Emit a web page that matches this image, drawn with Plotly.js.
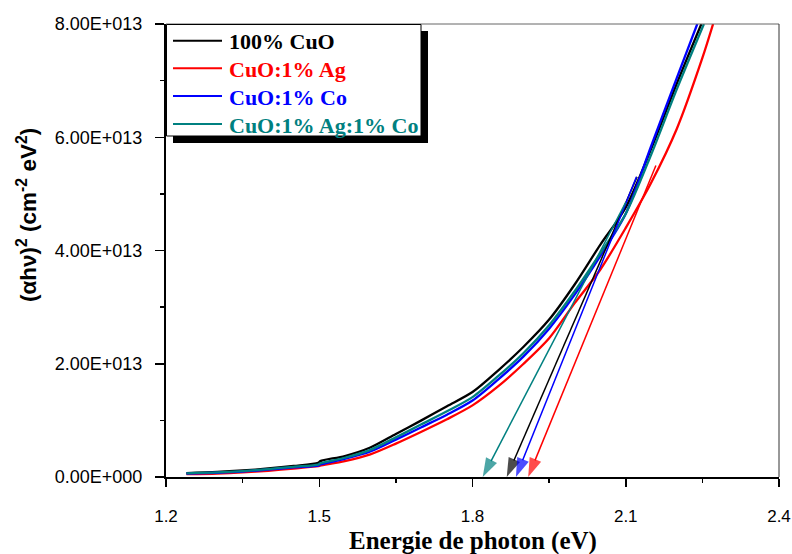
<!DOCTYPE html>
<html>
<head>
<meta charset="utf-8">
<script src="https://cdn.plot.ly/plotly-3.0.1.min.js"></script>
<style>html,body{margin:0;padding:0;background:#fff;}#chart{width:792px;height:554px;}</style>
</head>
<body>
<div id="chart"></div>
<script>
// ---- Data (y in units of 1e13 cm^-2 eV^2) ----
const seriesNames = ['100% CuO', 'CuO:1% Ag', 'CuO:1% Co', 'CuO:1% Ag:1% Co'];
const seriesColors = ['#000000', '#FF0000', '#0000FF', '#008080'];

const blackX = [1.24,1.30,1.35,1.40,1.45,1.498,1.502,1.55,1.60,1.65,1.70,1.75,1.80,1.85,1.90,1.95,2.00,2.05,2.10,2.15,2.20,2.248];
const blackY = [0.07,0.09,0.115,0.15,0.195,0.25,0.28,0.37,0.52,0.76,1.00,1.25,1.50,1.88,2.30,2.78,3.40,4.10,4.76,5.80,6.95,8.00];

const redX = [1.24,1.30,1.35,1.40,1.45,1.498,1.502,1.55,1.60,1.65,1.70,1.75,1.80,1.85,1.90,1.95,2.00,2.05,2.10,2.15,2.20,2.25,2.271];
const redY = [0.05,0.06,0.08,0.11,0.15,0.19,0.20,0.28,0.40,0.59,0.80,1.02,1.265,1.60,2.00,2.45,3.07,3.66,4.40,5.20,6.15,7.40,8.00];

const blueX = [1.24,1.30,1.35,1.40,1.45,1.498,1.502,1.55,1.60,1.65,1.70,1.75,1.80,1.85,1.90,1.95,2.00,2.05,2.10,2.15,2.20,2.24];
const blueY = [0.06,0.075,0.095,0.13,0.17,0.20,0.22,0.32,0.45,0.66,0.88,1.10,1.35,1.72,2.13,2.62,3.22,3.90,4.65,5.85,7.05,8.00];

const tealX = [1.24,1.30,1.35,1.40,1.45,1.498,1.502,1.55,1.60,1.65,1.70,1.75,1.80,1.85,1.90,1.95,2.00,2.05,2.10,2.15,2.20,2.253];
const tealY = [0.065,0.08,0.105,0.14,0.18,0.22,0.24,0.34,0.48,0.70,0.93,1.16,1.41,1.78,2.19,2.68,3.28,3.95,4.65,5.70,6.85,8.00];

// Tangent (Tauc) extrapolations: tail point on the curve -> x-intercept (band gap)
const tangentTipX  = [1.867, 1.909, 1.885, 1.820];
const tangentTailX = [2.122, 2.159, 2.121, 2.100];
const tangentTailY = [5.3,   5.5,   5.3,   4.85];

const xTickVals = [1.2, 1.5, 1.8, 2.1, 2.4];
const xTickText = ['1.2', '1.5', '1.8', '2.1', '2.4'];
const yTickVals = [0, 2, 4, 6, 8];
const yTickText = ['0.00E+000', '2.00E+013', '4.00E+013', '6.00E+013', '8.00E+013'];

// ---- Layout helpers ----
const W = 792, H = 554;
const M = {l: 166, r: 13, t: 24, b: 77};
const PW = W - M.l - M.r, PH = H - M.t - M.b;
const px2paperX = px => (px - M.l) / PW;
const px2paperY = py => (H - M.b - py) / PH;

const SANS = 'Liberation Sans, Arial, sans-serif';
const SERIF = 'Liberation Serif, Times New Roman, serif';

const xs = [blackX, redX, blueX, tealX];
const ys = [blackY, redY, blueY, tealY];

const traces = xs.map((x, i) => ({
  type: 'scatter', mode: 'lines', x: x, y: ys[i], name: seriesNames[i],
  line: {color: seriesColors[i], width: 2.3, shape: 'spline', smoothing: 0.8},
  showlegend: false, hoverinfo: 'skip'
}));

// tangent arrows as line traces with an arrow marker at the x-intercept
for (let i = 0; i < 4; i++) {
  traces.push({
    type: 'scatter', mode: 'lines+markers',
    x: [tangentTailX[i], tangentTipX[i]], y: [tangentTailY[i], 0],
    line: {color: seriesColors[i], width: 1.5},
    marker: {symbol: 'arrow', size: [0, 20], angleref: 'previous', color: seriesColors[i], line: {width: 0}},
    cliponaxis: false, showlegend: false, hoverinfo: 'skip'
  });
}

const annotations = [];
const shapes = [];

// top / right frame
shapes.push({type: 'line', xref: 'paper', yref: 'paper', x0: 0, x1: 1, y0: 1, y1: 1, line: {color: '#666666', width: 1}, layer: 'above'});
shapes.push({type: 'line', xref: 'paper', yref: 'paper', x0: 1, x1: 1, y0: 0, y1: 1, line: {color: '#333333', width: 1}, layer: 'above'});

// legend box with drop shadow
shapes.push({type: 'rect', xref: 'paper', yref: 'paper',
  x0: px2paperX(173), x1: px2paperX(428), y0: px2paperY(143), y1: px2paperY(31),
  fillcolor: '#000000', line: {width: 0}, layer: 'above'});
shapes.push({type: 'rect', xref: 'paper', yref: 'paper',
  x0: px2paperX(166.5), x1: px2paperX(421), y0: px2paperY(136), y1: px2paperY(24.5),
  fillcolor: '#FFFFFF', line: {color: '#000000', width: 1}, layer: 'above'});

const rowY = [40.7, 68.3, 96, 124];
for (let i = 0; i < 4; i++) {
  shapes.push({type: 'line', xref: 'paper', yref: 'paper',
    x0: px2paperX(173), x1: px2paperX(222), y0: px2paperY(rowY[i]), y1: px2paperY(rowY[i]),
    line: {color: seriesColors[i], width: 2}, layer: 'above'});
  annotations.push({
    xref: 'paper', yref: 'paper', x: px2paperX(227), y: px2paperY(rowY[i] + 1),
    xanchor: 'left', yanchor: 'middle', showarrow: false, text: seriesNames[i],
    font: {family: SERIF, size: 22, weight: 700, color: seriesColors[i]}
  });
}

// axis titles
annotations.push({
  xref: 'paper', yref: 'paper', x: px2paperX(473), y: px2paperY(541),
  xanchor: 'center', yanchor: 'middle', showarrow: false,
  text: 'Energie de photon (eV)',
  font: {family: SERIF, size: 25, weight: 700, color: '#000'}
});
annotations.push({
  xref: 'paper', yref: 'paper', x: px2paperX(27), y: px2paperY(215),
  xanchor: 'center', yanchor: 'middle', showarrow: false, textangle: -90,
  text: '(αhν)<sup>2</sup> (cm<sup>-2</sup> eV<sup>2</sup>)',
  font: {family: SANS, size: 22.5, weight: 700, color: '#000'}
});

const layout = {
  width: W, height: H, margin: M,
  paper_bgcolor: '#fff', plot_bgcolor: '#fff',
  showlegend: false,
  xaxis: {
    range: [1.2, 2.4], tickmode: 'array', tickvals: xTickVals, ticktext: xTickText,
    ticks: 'outside', ticklen: 8, tickwidth: 1.5, tickcolor: '#000',
    showline: true, linewidth: 2, linecolor: '#000', showgrid: false, zeroline: false,
    tickfont: {family: SANS, size: 17, color: '#000'}, ticklabelstandoff: 15,
    minor: {ticks: 'outside', ticklen: 4, tickwidth: 1.5, tickcolor: '#000', tickmode: 'linear', tick0: 1.2, dtick: 0.15, showgrid: false}
  },
  yaxis: {
    range: [0, 8], tickmode: 'array', tickvals: yTickVals, ticktext: yTickText,
    ticks: 'outside', ticklen: 9, tickwidth: 1.5, tickcolor: '#000',
    showline: true, linewidth: 2, linecolor: '#000', showgrid: false, zeroline: false,
    tickfont: {family: SANS, size: 18, color: '#000'}, ticklabelstandoff: 9,
    minor: {ticks: 'outside', ticklen: 4, tickwidth: 1.5, tickcolor: '#000', tickmode: 'linear', tick0: 0, dtick: 1, showgrid: false}
  },
  shapes: shapes,
  annotations: annotations
};

Plotly.newPlot('chart', traces, layout, {staticPlot: true, displayModeBar: false});
</script>
</body>
</html>
